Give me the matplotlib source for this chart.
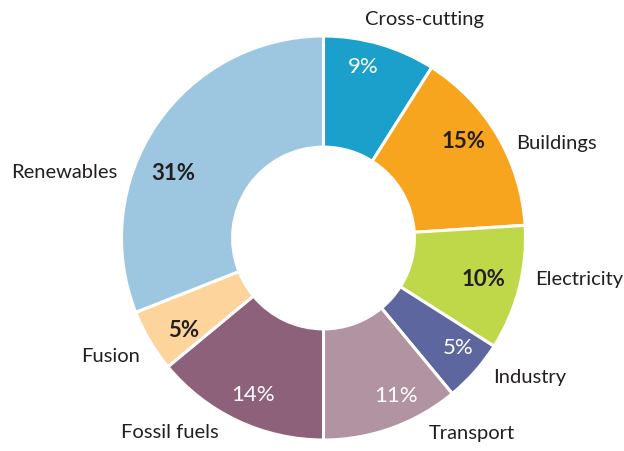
import matplotlib
matplotlib.use("Agg")
import matplotlib.pyplot as plt
import numpy as np

# ---- data ----
categories = ["Cross-cutting", "Buildings", "Electricity", "Industry",
              "Transport", "Fossil fuels", "Fusion", "Renewables"]
shares = [9, 15, 10, 5, 11, 14, 5, 31]
pct_labels = ["9%", "15%", "10%", "5%", "11%", "14%", "5%", "31%"]

# ---- styles / layout ----
colors = ["#1aa0cb", "#f7a51e", "#bfd84a", "#5d669f",
          "#b193a1", "#8d6179", "#fdd59c", "#9dc6e1"]
pct_colors = ["white", "#231f20", "#231f20", "white",
              "white", "white", "#231f20", "#231f20"]
pct_weights = ["normal", "bold", "bold", "normal",
               "normal", "normal", "bold", "bold"]
pct_angle_nudge = [3, 4, 0, 2, 5, 1, 3, 11]   # degrees, layout tweak
pct_radius = [0.87, 0.84, 0.82, 0.86, 0.86, 0.85, 0.83, 0.81]
# outer label anchors in pixel layout (x, y from top) and alignment
label_pos = [(425, 20, "center"), (516, 143, "left"), (535, 280, "left"),
             (493, 378, "left"), (429, 433, "left"), (219, 433, "right"),
             (140, 357, "right"), (117, 173, "right")]

W, H = 624, 451
fig = plt.figure(figsize=(W / 100, H / 100), dpi=100)
ax = fig.add_axes([0, 0, 1, 1])
ax.set_xlim(0, W)
ax.set_ylim(0, H)
ax.axis("off")

cx, cy = 323.5, H - 238
R = 202
inner = 0.45

wedges, _ = ax.pie(shares, colors=colors, startangle=90, counterclock=False,
                   center=(cx, cy), radius=R,
                   wedgeprops=dict(width=R * (1 - inner), edgecolor="white",
                                   linewidth=2.2))
ax.set_xlim(0, W)
ax.set_ylim(0, H)
ax.set_aspect("equal")

font = "Lato"
for w, lab, col, wt, nud, rf in zip(wedges, pct_labels, pct_colors,
                                    pct_weights, pct_angle_nudge, pct_radius):
    mid = (w.theta1 + w.theta2) / 2 + nud
    a = np.deg2rad(mid)
    ax.text(cx + rf * R * np.cos(a), cy + rf * R * np.sin(a), lab,
            ha="center", va="center", color=col, fontsize=16,
            fontweight=wt, family=font)

for cat, (x, y, ha) in zip(categories, label_pos):
    ax.text(x, H - y, cat, ha=ha, va="center", color="#231f20",
            fontsize=14.5, family=font)

fig.savefig("out.png", dpi=100)
